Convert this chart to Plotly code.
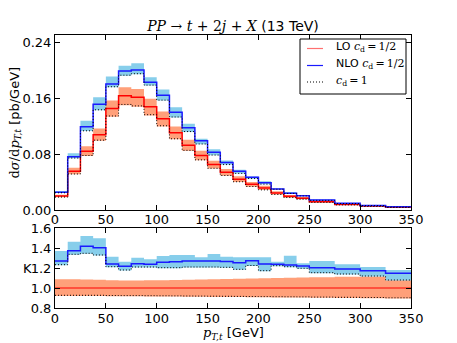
import plotly.graph_objects as go

# bin edges in GeV (12.5 GeV bins up to 250, then 25 GeV)
edges = [i * 12.5 for i in range(21)] + [275, 300, 325, 350]

# NLO c_d=1/2 central value, pb/GeV
nlo = [0.0253, 0.0762, 0.119, 0.151, 0.180, 0.1986, 0.200, 0.1824, 0.164, 0.1395,
       0.1176, 0.099, 0.0824, 0.068, 0.0552, 0.0467, 0.039, 0.030, 0.024, 0.0205,
       0.0143, 0.0095, 0.0065, 0.0045]

# K factor (NLO / LO) and NLO band, relative to LO central
k_c = [1.27, 1.373, 1.417, 1.403, 1.24, 1.217, 1.243, 1.237, 1.257, 1.263,
       1.27, 1.27, 1.27, 1.265, 1.253, 1.273, 1.24, 1.237, 1.23, 1.22,
       1.203, 1.19, 1.173, 1.147]
k_up = [1.37, 1.463, 1.52, 1.497, 1.313, 1.263, 1.303, 1.287, 1.32, 1.33,
        1.33, 1.307, 1.34, 1.313, 1.307, 1.307, 1.307, 1.263, 1.323, 1.247,
        1.27, 1.237, 1.21, 1.18]
k_dot = [1.233, 1.337, 1.347, 1.33, 1.213, 1.18, 1.21, 1.21, 1.203, 1.203,
         1.21, 1.21, 1.21, 1.207, 1.187, 1.225, 1.173, 1.223, 1.213, 1.197,
         1.153, 1.14, 1.12, 1.08]
k_dn = [1.228, 1.332, 1.342, 1.325, 1.208, 1.175, 1.205, 1.205, 1.198, 1.198,
        1.205, 1.205, 1.205, 1.202, 1.182, 1.22, 1.168, 1.218, 1.208, 1.192,
        1.148, 1.135, 1.115, 1.075]

# LO band relative to LO central
lo_up = [1.087, 1.087, 1.085, 1.083, 1.077, 1.075, 1.075, 1.077, 1.078, 1.08,
         1.082, 1.085, 1.087, 1.09, 1.092, 1.095, 1.097, 1.10, 1.102, 1.105,
         1.108, 1.112, 1.115, 1.118]
lo_dn = [0.92, 0.92, 0.92, 0.92, 0.918, 0.917, 0.917, 0.916, 0.915, 0.914,
         0.913, 0.912, 0.911, 0.91, 0.909, 0.908, 0.907, 0.906, 0.905, 0.904,
         0.902, 0.9, 0.898, 0.895]
lo_dot = [0.927, 0.927, 0.927, 0.927, 0.925, 0.924, 0.924, 0.923, 0.922, 0.921,
          0.92, 0.919, 0.918, 0.917, 0.916, 0.915, 0.914, 0.913, 0.912, 0.911,
          0.909, 0.907, 0.905, 0.902]

lo = [n / k for n, k in zip(nlo, k_c)]


def step(vals):
    return list(vals) + [vals[-1]]


def scaled(r):
    return [a * b for a, b in zip(lo, r)]


BLUE_BAND = "#87ceeb"
RED_BAND = "#ffa07a"
BLUE = "#1a1aff"
DOTS = "1px,2px"
fig = go.Figure()


def band(lo_v, hi_v, color, xa, ya):
    fig.add_trace(go.Scatter(x=edges, y=step(lo_v), mode="lines", line=dict(width=0, shape="hv"),
                             xaxis=xa, yaxis=ya, showlegend=False, hoverinfo="skip"))
    fig.add_trace(go.Scatter(x=edges, y=step(hi_v), mode="lines", line=dict(width=0, shape="hv"),
                             fill="tonexty", fillcolor=color, xaxis=xa, yaxis=ya,
                             showlegend=False, hoverinfo="skip"))


def line(vals, color, xa, ya, width=1.5, dash="solid"):
    fig.add_trace(go.Scatter(x=edges, y=step(vals), mode="lines",
                             line=dict(color=color, width=width, shape="hv", dash=dash),
                             xaxis=xa, yaxis=ya, showlegend=False))


# top panel
band(scaled(lo_dn), scaled(lo_up), RED_BAND, "x", "y")
band(scaled(k_dn), scaled(k_up), BLUE_BAND, "x", "y")
line(lo, "red", "x", "y")
line(nlo, BLUE, "x", "y")
line(scaled(lo_dot), "black", "x", "y", 1, DOTS)
line(scaled(k_dot), "black", "x", "y", 1, DOTS)

# ratio panel
band(lo_dn, lo_up, RED_BAND, "x2", "y2")
band(k_dn, k_up, BLUE_BAND, "x2", "y2")
line([1.0] * len(lo), "red", "x2", "y2", 1.2)
line(k_c, BLUE, "x2", "y2")
line(lo_dot, "black", "x2", "y2", 1, DOTS)
line(k_dot, "black", "x2", "y2", 1, DOTS)

M = "font-family:'DejaVu Serif'"
lab = dict(family="DejaVu Sans", size=13, color="black")
ax = dict(showline=True, linecolor="black", linewidth=1, mirror="ticks", ticks="inside",
          ticklen=5, tickcolor="black", showgrid=False, zeroline=False,
          tickfont=dict(family="DejaVu Sans", size=13, color="black"))

# page body has an 8px margin, so the figure is 8px smaller and margins shifted
W, H = 449, 335
L, T, R, B = 47, 27, 46, 35
ph = H - T - B  # plot height (273)
pw = W - L - R  # plot width (356)


def px(x):  # page pixel -> paper x
    return (x - 55) / pw


def py(y):  # page pixel -> paper y
    return (308 - y) / ph


# legend drawn by hand to match the box of the original
shapes = [dict(type="rect", xref="paper", yref="paper", x0=px(300), x1=px(406),
               y0=py(94), y1=py(39), line=dict(color="black", width=1), fillcolor="white")]
annots = []
sp = "\u2009"
cd = f"<span style=\"{M}\"><i>c</i><sub>d</sub>{sp}={sp}1/2</span>"
for ly, name, col, dash in [(48.5, "LO " + cd, "#ff7070", "solid"),
                            (65.5, "NLO " + cd, BLUE, "solid"),
                            (82, f"<span style=\"{M}\"><i>c</i><sub>d</sub>{sp}={sp}1</span>", "black", DOTS)]:
    shapes.append(dict(type="line", xref="paper", yref="paper", x0=px(307), x1=px(323),
                       y0=py(ly), y1=py(ly), line=dict(color=col, width=1.2, dash=dash)))
    annots.append(dict(text=name, x=px(334), y=py(ly - 1), xref="paper", yref="paper",
                       xanchor="left", yanchor="middle", showarrow=False,
                       font=dict(family="DejaVu Sans", size=11, color="black")))

annots += [
    dict(text=f"<span style=\"{M}\">d<i>σ</i>/d<i>p</i><sub><i>T,t</i></sub></span> [pb/GeV]",
         x=px(15), xref="paper", y=py(122.5), yref="paper",
         xanchor="center", yanchor="middle", showarrow=False, textangle=-90, font=lab),
    dict(text="K", x=px(27), xref="paper", y=py(268), yref="paper",
         xanchor="center", yanchor="middle", showarrow=False, font=lab),
    dict(text=f"<span style=\"{M}\"><i>p</i><sub><i>T,t</i></sub></span> [GeV]",
         x=0.5, xref="paper", y=py(333), yref="paper",
         xanchor="center", yanchor="middle", showarrow=False, font=lab),
]

fig.update_layout(
    width=W, height=H,
    margin=dict(l=L, r=R, t=T, b=B),
    plot_bgcolor="white", paper_bgcolor="white",
    showlegend=False,
    title=dict(text=f"<span style=\"{M}\"><i>PP</i> → <i>t</i> + 2<i>j</i> + <i>X</i></span> (13 TeV)",
               x=(233 - 8) / W, xanchor="center", y=1 - 18 / H, yanchor="middle",
               font=dict(family="DejaVu Sans", size=14, color="black")),
    xaxis=dict(ax, range=[0, 350], tickvals=list(range(0, 351, 50)), anchor="y",
               ticklabelstandoff=-3),
    yaxis=dict(ax, range=[0, 0.25], tickvals=[0, 0.08, 0.16, 0.24], tickformat=".2f",
               domain=[98 / ph, 1], anchor="x"),
    xaxis2=dict(ax, range=[0, 350], tickvals=list(range(0, 351, 50)), anchor="y2",
                ticklabelstandoff=-2),
    yaxis2=dict(ax, range=[0.8, 1.6], tickvals=[0.8, 1.0, 1.2, 1.4, 1.6], tickformat=".1f",
                domain=[0, 80 / ph], anchor="x2"),
    shapes=shapes,
    annotations=annots,
)

fig.write_html("out.html")
